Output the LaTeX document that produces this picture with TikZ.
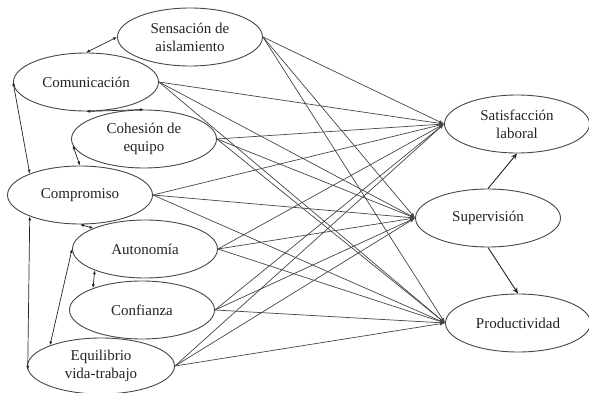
\documentclass[tikz,border=0pt]{standalone}
\usepackage{fontspec}
\setmainfont{Liberation Serif}
\newfontfamily\varfont{Liberation Serif}
\definecolor{inkgray}{RGB}{35, 35, 35}
\definecolor{linegray}{RGB}{70, 70, 70}
\usetikzlibrary{shapes.geometric, arrows.meta}

\begin{document}
\begin{tikzpicture}[
  x=1pt, y=-1pt,
  var/.style={draw=linegray, ellipse, line width=0.9pt, minimum width=145pt, minimum height=58pt,
    inner sep=0pt, align=center, text=inkgray, font=\varfont\fontsize{15}{18}\selectfont},
  path/.style={-{Latex[length=5pt, width=3.5pt]}, line width=0.7pt, linegray},
  cov/.style={{Latex[length=4pt, width=3pt]}-{Latex[length=4pt, width=3pt]}, line width=0.7pt, inkgray},
  eff/.style={-{Stealth[length=6pt, width=5pt]}, line width=0.9pt, inkgray}
]
  \useasboundingbox (0,0) rectangle (589,393);

  % --- Predictores ---
  \node[var] (sens) at (190, 37) {Sensación de\\aislamiento};
  \node[var] (com)  at (86, 82)  {Comunicación};
  \node[var] (coh)  at (144, 139) {Cohesión de\\equipo};
  \node[var] (comp) at (80, 195) {Compromiso};
  \node[var] (aut)  at (145, 249) {Autonomía};
  \node[var] (conf) at (142, 310) {Confianza};
  \node[var, minimum width=147pt, minimum height=56pt] (equi) at (101, 366) {Equilibrio\\vida-trabajo};

  % --- Resultados ---
  \node[var] (sat)  at (517, 124) {Satisfacción\\laboral};
  \node[var] (sup)  at (488, 218) {Supervisión};
  \node[var] (prod) at (518, 323) {Productividad};

  % --- Covarianzas ---
  \draw[cov] (com.north) -- (sens.west);
  \draw[cov] (com.west) -- (comp.157);
  \draw[cov] (com.south) -- (coh.north);
  \draw[cov] (coh.185) -- (comp.north);
  \draw[cov] (comp.south) -- (aut.158);
  \draw[cov] (comp.203) -- (equi.183);
  \draw[cov] (aut.203) -- (conf.156);
  \draw[cov] (aut.west) -- (equi.158);

  % --- Efectos directos ---
  \foreach \src in {sens, com, coh, comp, aut, conf, equi}
    \foreach \dst in {sat, sup, prod}
      \draw[path] (\src.east) -- (\dst.west);

  \draw[eff] (sup.north) -- (sat.south);
  \draw[eff] (sup.south) -- (prod.north);
\end{tikzpicture}
\end{document}
